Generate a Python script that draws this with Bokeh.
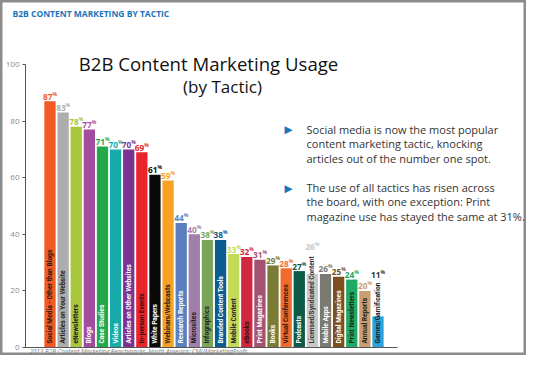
import numpy as np
from bokeh.plotting import figure
from bokeh.models import Range1d, Label, FixedTicker, ColumnDataSource
from bokeh.core.properties import value
from bokeh.embed import file_html
from bokeh.resources import INLINE

# ---------------- data ----------------
tactics = [
    "Social Media - Other than Blogs", "Articles on Your Website", "eNewsletters", "Blogs",
    "Case Studies", "Videos", "Articles on Other Websites", "In-person Events",
    "White Papers", "Webinars/Webcasts", "Research Reports", "Microsites",
    "Infographics", "Branded Content Tools", "Mobile Content", "eBooks",
    "Print Magazines", "Books", "Virtual Conferences", "Podcasts",
    "Licensed/Syndicated Content", "Mobile Apps", "Digital Magazines", "Print Newsletters",
    "Annual Reports", "Games/Gamification",
]
usage = [87, 83, 78, 77, 71, 70, 70, 69, 61, 59, 44, 40, 38, 38, 33, 32, 31, 29, 28, 27,
         26, 26, 25, 24, 20, 11]
bar_colors = [
    "#f15a24", "#adadad", "#a9c73b", "#a34c9e", "#22a94b", "#18aaaa", "#7b3393", "#e8252a",
    "#0a0a0a", "#f7a125", "#5a7fbf", "#a07fab", "#7ba55a", "#0d5c91", "#c5da5a", "#d2283f",
    "#a35372", "#7c7b35", "#f26b2a", "#0b5b47", "#c8c8c8", "#7a7a70", "#7d4f1f", "#20a962",
    "#c99f70", "#2ca2dc",
]
name_colors = [
    "#2a1a10", "#222222", "#222222", "#ffffff", "#ffffff", "#ffffff", "#ffffff", "#3a1010",
    "#ffffff", "#2a1a10", "#ffffff", "#222222", "#222222", "#ffffff", "#222222", "#3a1010",
    "#ffffff", "#ffffff", "#2a1a10", "#ffffff", "#333333", "#ffffff", "#ffffff", "#1a2a1a",
    "#222222", "#1a1a1a",
]
value_colors = bar_colors[:20] + ["#c8c8c8", "#7a7a70", "#7d4f1f", "#20a962", "#c99f70", "#333333"]
y_ticks = [0, 20, 40, 60, 80, 100]

header = "B2B CONTENT MARKETING BY TACTIC"
title1 = "B2B Content Marketing Usage"
title2 = "(by Tactic)"
bullet1 = ["Social media is now the most popular",
           "content marketing tactic, knocking",
           "articles out of the number one spot."]
bullet2 = ["The use of all tactics has risen across",
           "the board, with one exception: Print",
           "magazine use has stayed the same at 31%."]
footer = "2013 B2B Content Marketing Benchmarks\u2013North America: CMI/MarketingProfs"

# ---------------- geometry (reference pixels -> data) ----------------
W, H = 526, 355
AXIS_X, AXIS_Y, TOP_Y = 25, 347, 64
ppu_y = (AXIS_Y - TOP_Y) / 100.0
unit_x = (377.5 - 49.5) / 25.0
x0 = 1 - 49.5 / unit_x
x1 = x0 + W / unit_x
y0 = -(H - AXIS_Y) / ppu_y
y1 = AXIS_Y / ppu_y


def DX(rx):
    return x0 + rx / unit_x


def DY(ry):
    return (AXIS_Y - ry) / ppu_y


xs = list(range(1, len(tactics) + 1))
ext = [(4 + len(t) * 3.2 + 6) / ppu_y for t in tactics]
lab_y = [max(v, e) for v, e in zip(usage, ext)]
src = ColumnDataSource(dict(x=xs, top=usage, name=tactics, bc=bar_colors, nc=name_colors,
                            vc=value_colors, ly=lab_y, num=[str(v) for v in usage],
                            pct=["%"] * len(usage)))

p = figure(width=W, height=H, x_range=Range1d(x0, x1), y_range=Range1d(y0, y1),
           output_backend="svg", toolbar_location=None,
           min_border_left=0, min_border_right=0, min_border_top=0, min_border_bottom=0)
p.outline_line_color = "#8c8c8c"
p.outline_line_width = 4
p.xgrid.visible = False
p.ygrid.visible = False
p.background_fill_color = "white"
p.border_fill_color = "white"

# axes
ya = p.yaxis[0]
ya.fixed_location = DX(AXIS_X)
ya.ticker = FixedTicker(ticks=y_ticks)
ya.bounds = (0, 100)
ya.axis_line_color = "#555555"
ya.major_tick_line_color = "#555555"
ya.major_tick_out = 3
ya.major_tick_in = 0
ya.minor_tick_line_color = None
ya.major_label_text_font_size = "8px"
ya.major_label_text_color = "#8a8a8a"
ya.major_label_text_font = "Open Sans"
ya.major_label_standoff = 3

xa = p.xaxis[0]
xa.fixed_location = 0
xa.ticker = FixedTicker(ticks=[])
xa.bounds = (DX(AXIS_X), DX(397))
xa.axis_line_color = "#555555"
xa.major_tick_line_color = None
xa.minor_tick_line_color = None
xa.major_label_text_font_size = "0px"

# bars
p.vbar(x="x", top="top", width=0.86, fill_color="bc", line_color=None, source=src)
p.text(x="x", y=0, text="name", angle=np.pi / 2, y_offset=-4, text_align="left",
       text_baseline="middle", text_color="nc", text_font=value("Roboto"),
       text_font_size="6.6px", text_font_style="bold", source=src)
p.text(x="x", y="ly", text="num", x_offset=2.5, y_offset=-1.5, text_align="right",
       text_baseline="bottom", text_color="vc", text_font=value("Open Sans"),
       text_font_size="8.3px", text_font_style="bold", source=src)
p.text(x="x", y="ly", text="pct", x_offset=2.5, y_offset=-4.5, text_align="left",
       text_baseline="bottom", text_color="vc", text_font=value("Open Sans"),
       text_font_size="5px", text_font_style="bold", source=src)

# texts
p.add_layout(Label(x=DX(12), y=DY(13), text=header, text_align="left", text_baseline="middle",
                   text_font="Open Sans", text_font_style="bold", text_font_size="8.5px",
                   text_color="#1b75bb"))
p.add_layout(Label(x=DX(208), y=DY(63), text=title1, text_align="center", text_baseline="middle",
                   text_font="Open Sans", text_font_size="18.6px", text_color="#111111"))
p.add_layout(Label(x=DX(222), y=DY(86), text=title2, text_align="center", text_baseline="middle",
                   text_font="Open Sans", text_font_size="17px", text_color="#111111"))
for i, (line1, line2) in enumerate(zip(bullet1, bullet2)):
    p.add_layout(Label(x=DX(306), y=DY(128.5 + 14.6 * i), text=line1, text_align="left",
                       text_baseline="middle", text_font="Open Sans", text_font_size="11px",
                       text_color="#333333"))
    p.add_layout(Label(x=DX(306), y=DY(187 + 14.3 * i), text=line2, text_align="left",
                       text_baseline="middle", text_font="Open Sans", text_font_size="11px",
                       text_color="#333333"))
for ry in (128.5, 187):
    p.add_layout(Label(x=DX(284), y=DY(ry), text="\u25b6", text_align="left",
                       text_baseline="middle", text_font="DejaVu Sans", text_font_size="10.5px",
                       text_color="#1b75bb"))
p.add_layout(Label(x=DX(29), y=DY(350.5), text=footer, text_align="left", text_baseline="middle",
                   text_font="Open Sans", text_font_style="italic", text_font_size="6.3px",
                   text_color="#7a7a7a"))

open("out.html", "w").write(file_html(p, INLINE))
